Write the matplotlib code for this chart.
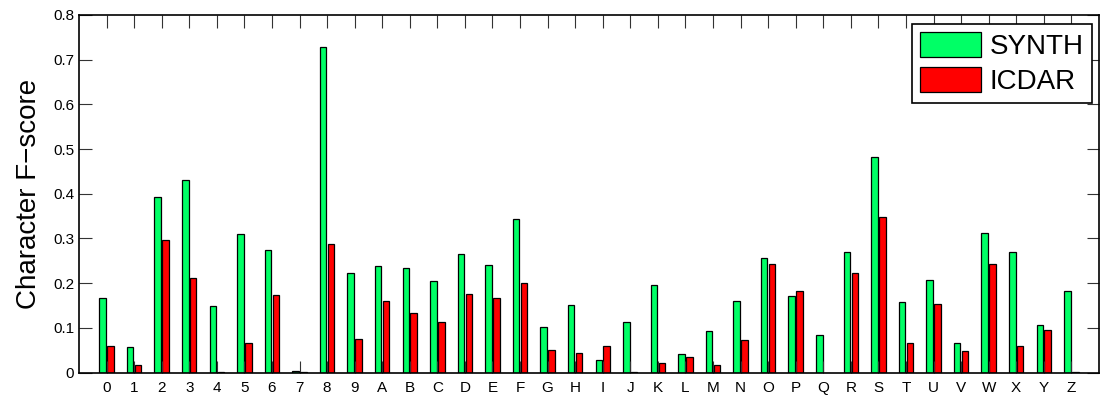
import numpy as np
import matplotlib
matplotlib.use('Agg')
import matplotlib.pyplot as plt

plt.rcParams['font.family'] = ['Liberation Sans', 'DejaVu Sans']

chars = list('0123456789ABCDEFGHIJKLMNOPQRSTUVWXYZ')
synth = [0.166, 0.056, 0.392, 0.430, 0.149, 0.310, 0.274, 0.003, 0.728, 0.223,
         0.239, 0.234, 0.204, 0.266, 0.241, 0.344, 0.102, 0.151, 0.027, 0.112,
         0.196, 0.041, 0.093, 0.159, 0.257, 0.171, 0.084, 0.269, 0.483, 0.157,
         0.208, 0.067, 0.313, 0.269, 0.106, 0.182]
icdar = [0.060, 0.017, 0.296, 0.211, 0.002, 0.067, 0.174, 0.001, 0.287, 0.075,
         0.160, 0.134, 0.113, 0.176, 0.166, 0.201, 0.051, 0.043, 0.060, 0.001,
         0.022, 0.035, 0.016, 0.072, 0.242, 0.182, 0.000, 0.222, 0.349, 0.066,
         0.153, 0.048, 0.242, 0.059, 0.095, 0.001]

x = np.arange(len(chars))
w = 0.235

fig = plt.figure(figsize=(11, 4.01), dpi=100)
ax = fig.add_axes([0.0718, 0.071, 0.9272, 0.8918])

ax.bar(x - 0.143, synth, width=w, color='#00ff66', edgecolor='black',
       linewidth=0.9, label='SYNTH')
ax.bar(x + 0.143, icdar, width=w, color='#ff0000', edgecolor='black',
       linewidth=0.9, label='ICDAR')

ax.set_xlim(-1, len(chars))
ax.set_ylim(0, 0.8)
ax.set_xticks(x)
ax.set_xticklabels(chars)
ax.set_yticks(np.arange(0, 0.81, 0.1))
ax.set_yticklabels(['0', '0.1', '0.2', '0.3', '0.4', '0.5', '0.6', '0.7', '0.8'])
ax.tick_params(direction='in', length=9, width=0.8, labelsize=11,
               top=True, right=True, color='#333333')
ax.tick_params(axis='x', pad=6)
for s in ax.spines.values():
    s.set_linewidth(1.2)

ax.set_ylabel('Character F\u2212score', fontsize=20, labelpad=8)

leg = ax.legend(loc='upper right', fontsize=20, frameon=True, fancybox=False,
                framealpha=1, handlelength=2.2, handleheight=1.0,
                borderpad=0.3, labelspacing=0.25, handletextpad=0.3,
                borderaxespad=0, bbox_to_anchor=(0.993, 0.975))
leg.get_frame().set_edgecolor('black')
leg.get_frame().set_linewidth(1.2)

fig.savefig('out.png', dpi=100)
